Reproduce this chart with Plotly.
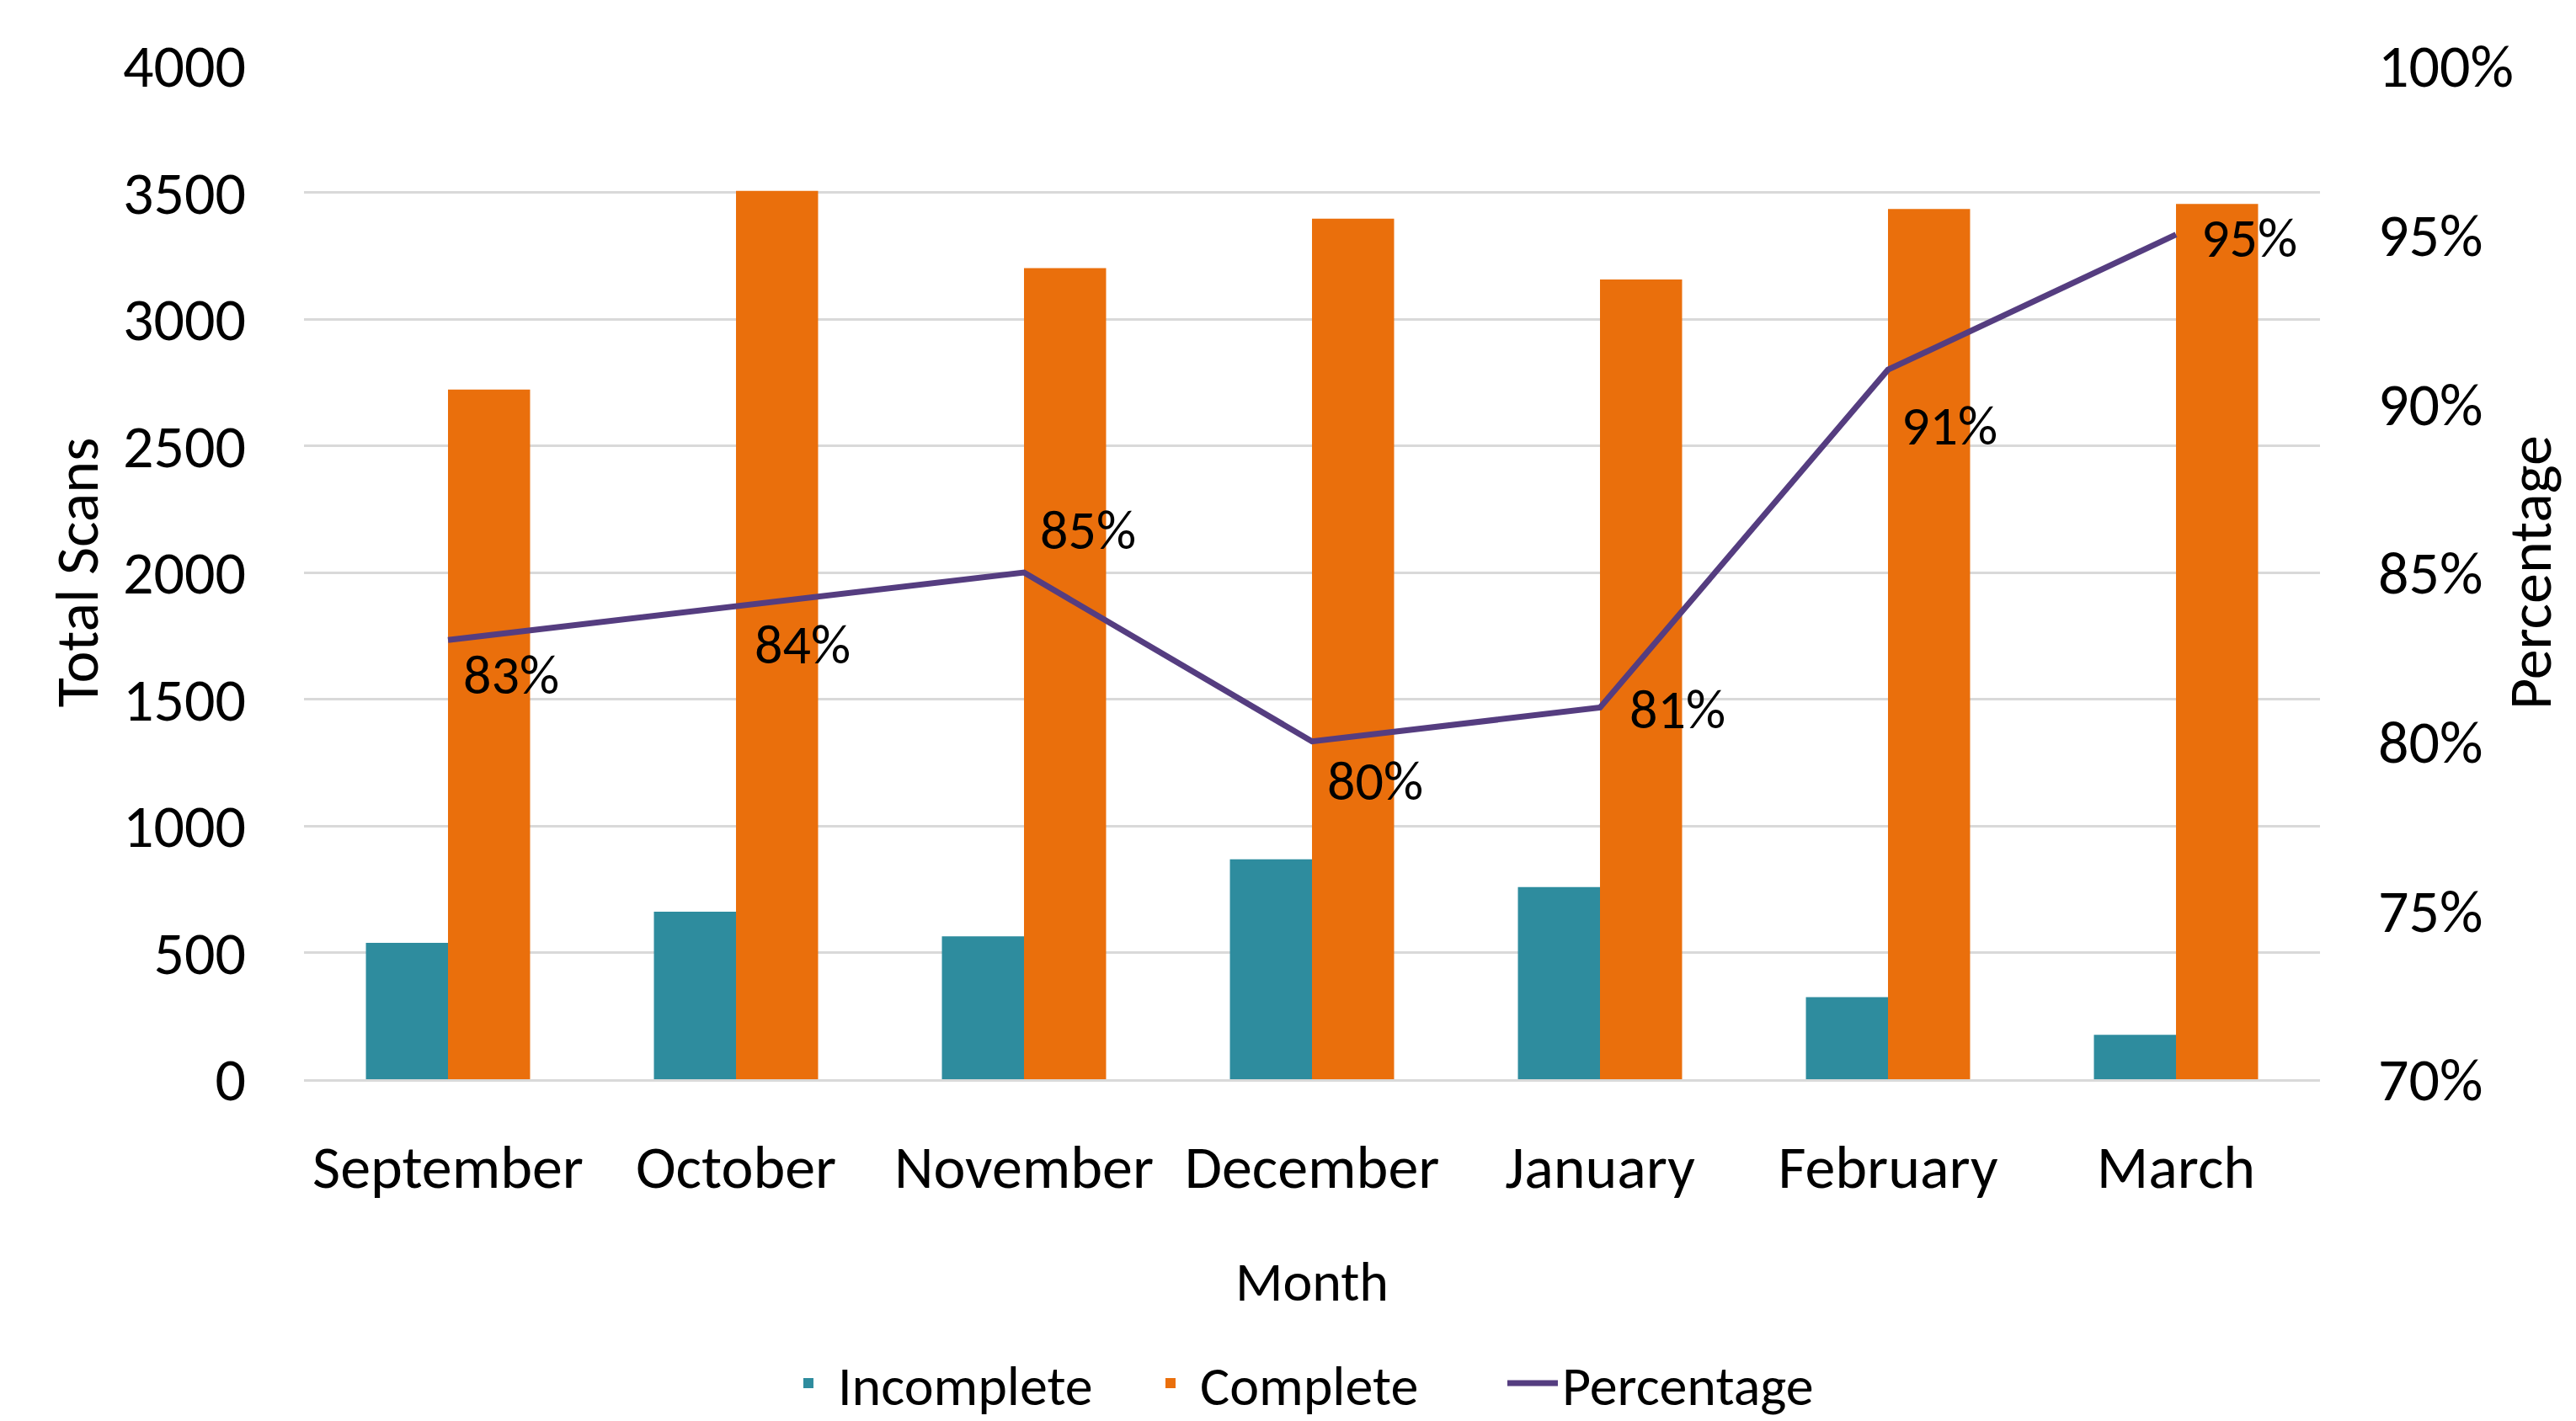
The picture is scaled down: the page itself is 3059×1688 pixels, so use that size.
import plotly.graph_objects as go

months = ["September", "October", "November", "December", "January", "February", "March"]
incomplete = [538, 661, 564, 868, 758, 324, 175]
complete = [2722, 3506, 3201, 3396, 3156, 3434, 3454]
percentage = [0.83, 0.84, 0.85, 0.80, 0.81, 0.91, 0.95]
pct_labels = ["83%", "84%", "85%", "80%", "81%", "91%", "95%"]
label_xshift = [16, 20, 17, 16, 33, 14, 28]
label_yshift = [-41, -45, 51, -47, -2, -66, -4]

FONT = "Carlito, Calibri, 'Liberation Sans Narrow', 'Liberation Sans', sans-serif"
FS = 72
FS2 = 66

fig = go.Figure()
fig.add_trace(go.Bar(name="Incomplete", x=months, y=incomplete, marker_color="#2E8C9E",
                     marker_line_width=0))
fig.add_trace(go.Bar(name="Complete", x=months, y=complete, marker_color="#EA6F0C",
                     marker_line_width=0))
fig.add_trace(go.Scatter(name="Percentage", x=months, y=percentage, yaxis="y2",
                         mode="lines", line=dict(color="#553D80", width=7)))

for m, p, t, dx, dy in zip(months, percentage, pct_labels, label_xshift, label_yshift):
    fig.add_annotation(x=m, y=p, xref="x", yref="y2", text=t, showarrow=False,
                       xanchor="left", yanchor="middle", xshift=dx, yshift=dy,
                       font=dict(family=FONT, size=FS2, color="#000000"))

# right axis title
fig.add_annotation(x=1, y=0.5, xref="paper", yref="paper", text="Percentage",
                   showarrow=False, textangle=-90, xanchor="center", yanchor="middle",
                   xshift=249, font=dict(family=FONT, size=FS, color="#000000"))

fig.update_layout(
    width=3059, height=1688,
    margin=dict(l=353, r=312, t=70, b=414, autoexpand=False),
    paper_bgcolor="white", plot_bgcolor="white",
    font=dict(family=FONT, size=FS, color="#000000"),
    barmode="group", bargap=0.43, bargroupgap=0,
    showlegend=True,
    legend=dict(orientation="h", x=0.505, xanchor="center", y=-0.30, yanchor="middle",
                font=dict(family=FONT, size=FS2), itemwidth=60, traceorder="normal",
                entrywidth=355),
    xaxis=dict(showgrid=False, showline=True, linecolor="#d9d9d9", linewidth=3,
               ticks="", ticklabelstandoff=40, automargin=False,
               tickfont=dict(family=FONT, size=FS),
               title=dict(text="Month", font=dict(family=FONT, size=FS2), standoff=70)),
    yaxis=dict(range=[0, 4000], dtick=500, showgrid=True, gridcolor="#d9d9d9", gridwidth=3,
               zeroline=False, showline=False, ticks="", ticklabelstandoff=68,
               automargin=False, tickfont=dict(family=FONT, size=FS),
               title=dict(text="Total Scans", font=dict(family=FONT, size=FS), standoff=5)),
    yaxis2=dict(range=[0.70, 1.00], dtick=0.05, tickformat=".0%", overlaying="y", side="right",
                showgrid=False, zeroline=False, showline=False, ticks="", ticklabelstandoff=68,
                automargin=False, tickfont=dict(family=FONT, size=FS)),
)

fig.write_html("out.html")
